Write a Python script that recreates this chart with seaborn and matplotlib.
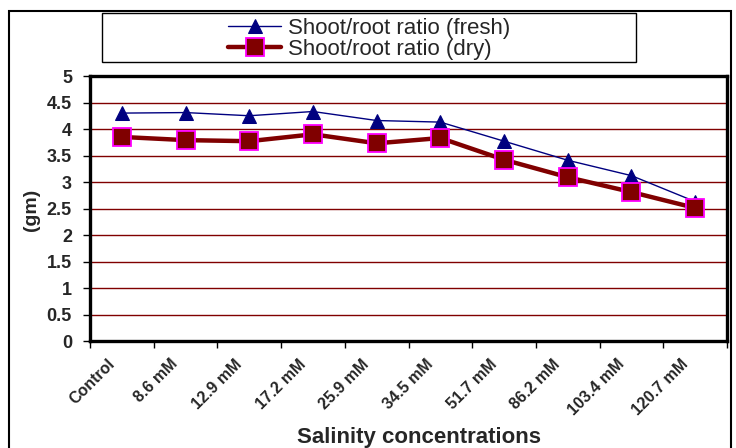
import matplotlib
matplotlib.use("Agg")
import matplotlib.pyplot as plt
import matplotlib.transforms as mtransforms
from matplotlib.patches import Rectangle
import seaborn as sns
import pandas as pd

categories = ["Control", "8.6 mM", "12.9 mM", "17.2 mM", "25.9 mM",
              "34.5 mM", "51.7 mM", "86.2 mM", "103.4 mM", "120.7 mM"]
fresh = [4.30, 4.31, 4.25, 4.33, 4.16, 4.13, 3.77, 3.41, 3.12, 2.63]
dry = [3.85, 3.79, 3.77, 3.90, 3.73, 3.83, 3.42, 3.09, 2.81, 2.51]
yticks = [0, 0.5, 1, 1.5, 2, 2.5, 3, 3.5, 4, 4.5, 5]
ytick_labels = ["0", "0.5", "1", "1.5", "2", "2.5", "3", "3.5", "4", "4.5", "5"]
label_fresh = "Shoot/root ratio (fresh)"
label_dry = "Shoot/root ratio (dry)"

sns.set_theme(style="white")
plt.rcParams["font.family"] = ["Liberation Sans", "DejaVu Sans"]

W, H = 736, 448
fig = plt.figure(figsize=(W / 100, H / 100), dpi=100)
ax = fig.add_axes([90 / W, 1 - 341 / H, (727 - 90) / W, (341 - 76) / H])

df = pd.DataFrame({"cat": categories, "fresh": fresh, "dry": dry})
df["pos"] = range(len(categories))

sns.lineplot(data=df, x="pos", y="fresh", ax=ax, color="#000080", lw=1.0,
             marker="^", markersize=10, markeredgecolor="#000080",
             markerfacecolor="#000080", label=label_fresh, zorder=3)
sns.lineplot(data=df, x="pos", y="dry", ax=ax, color="#800000", lw=3.2,
             marker="s", markersize=13, markeredgecolor="#FF00FF",
             markeredgewidth=1.3, markerfacecolor="#800000",
             label=label_dry, zorder=4)

ax.set_xlim(-0.5, len(categories) - 0.5)
ax.set_ylim(0, 5)
ax.set_yticks(yticks)
ax.set_yticklabels(ytick_labels, fontweight="bold", fontsize=13)
ax.set_xticks(range(len(categories)))
ax.set_xticklabels(categories, fontweight="bold", fontsize=11.5,
                   rotation=45, ha="right", va="top", rotation_mode="anchor")
ax.set_xticks([i - 0.5 for i in range(len(categories) + 1)], minor=True)
ax.tick_params(axis="x", which="major", length=0, pad=6)
ax.tick_params(axis="x", which="minor", length=5, width=1, color="black",
               direction="out", bottom=True)
ax.tick_params(axis="y", length=5, width=1, color="black", direction="out",
               left=True, pad=8)
offset = mtransforms.ScaledTranslation(-15 / 100, -7 / 100, fig.dpi_scale_trans)
for lab in ax.xaxis.get_majorticklabels():
    lab.set_transform(lab.get_transform() + offset)

ax.grid(False)
for y in yticks[1:-1]:
    ax.axhline(y, color="#800000", lw=1.0, zorder=1)

for s in ax.spines.values():
    s.set_visible(True)
    s.set_color("black")
    s.set_linewidth(2.4)

ax.set_xlabel("Salinity concentrations", fontweight="bold", fontsize=16)
ax.set_ylabel("(gm)", fontweight="bold", fontsize=14)
ax.xaxis.set_label_coords((419 - 90) / (727 - 90), -(427 - 341) / (341 - 76))
ax.yaxis.set_label_coords(-(90 - 40) / (727 - 90), (341 - 210) / (341 - 76))

handles, labels = ax.get_legend_handles_labels()
ax.get_legend().remove()
fig.legend(handles, labels, loc="center", bbox_to_anchor=(369 / W, 1 - 39 / H),
           frameon=False, fontsize=16, handlelength=2.4, labelspacing=0.0,
           handletextpad=0.3, borderpad=0)

fig.patches.append(Rectangle((102 / W, 1 - 62 / H), (636 - 102) / W, 49 / H,
                             transform=fig.transFigure, fill=False,
                             edgecolor="black", lw=1.0))
fig.patches.append(Rectangle((9 / W, -0.05), (731 - 9) / W, 1.05 - 11 / H,
                             transform=fig.transFigure, fill=False,
                             edgecolor="black", lw=1.5))

fig.savefig("out.png", dpi=100)
